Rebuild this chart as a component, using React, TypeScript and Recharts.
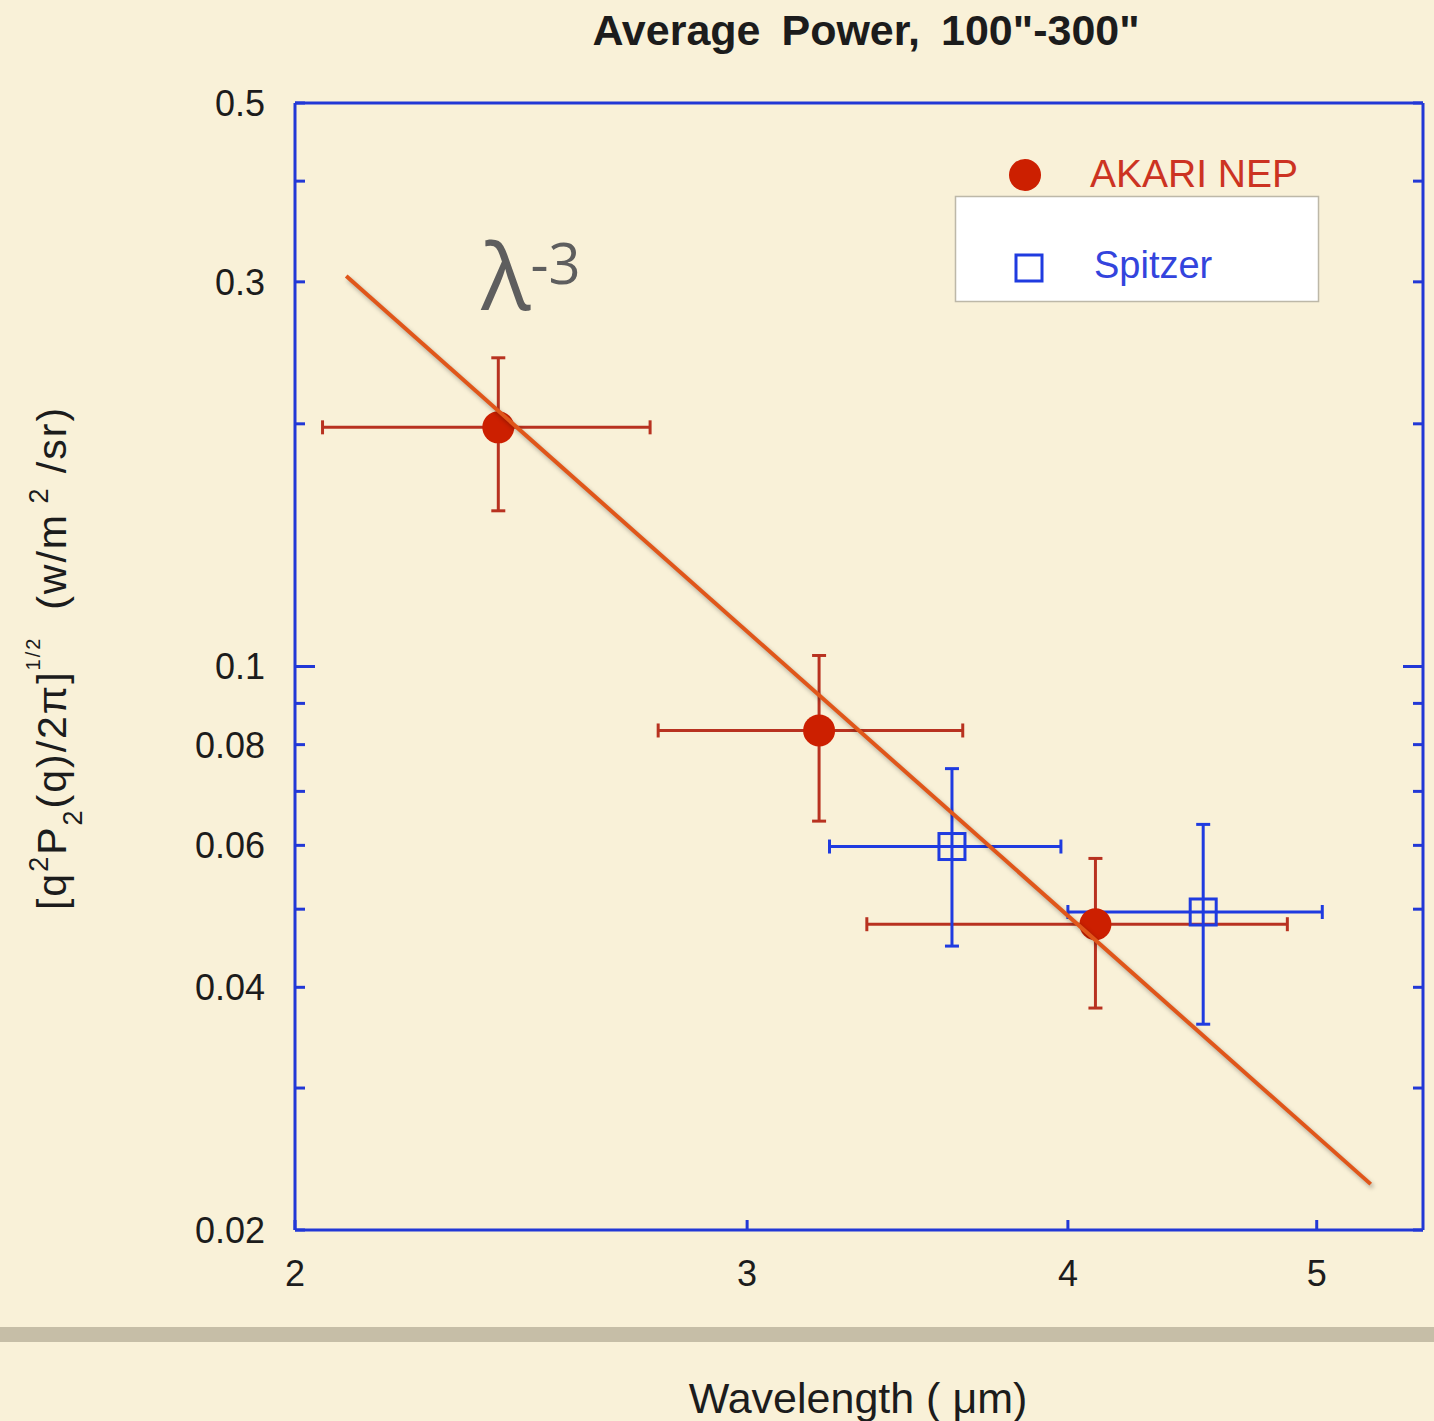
import React from 'react';
import { ScatterChart, Scatter, XAxis, YAxis, ErrorBar, Legend } from 'recharts';

// AKARI NEP points (wavelength in um, power) with error ranges
const akariWavelength = [2.40, 3.20, 4.10];
const akariPower = [0.198, 0.0833, 0.0479];
const akariWavelengthLow = [2.05, 2.77, 3.34];
const akariWavelengthHigh = [2.75, 3.64, 4.87];
const akariPowerLow = [0.156, 0.0643, 0.0377];
const akariPowerHigh = [0.2415, 0.1032, 0.0578];

// Spitzer points
const spitzerWavelength = [3.605, 4.516];
const spitzerPower = [0.0598, 0.0496];
const spitzerWavelengthLow = [3.23, 4.0];
const spitzerWavelengthHigh = [3.975, 5.025];
const spitzerPowerLow = [0.045, 0.036];
const spitzerPowerHigh = [0.0747, 0.0637];

// lambda^-3 fit line end points
const fitWavelength = [2.094, 5.248];
const fitPower = [0.305, 0.0228];

const xTicks = [2, 3, 4, 5];
const yTicks = [0.02, 0.03, 0.04, 0.05, 0.06, 0.07, 0.08, 0.09, 0.1, 0.2, 0.3, 0.4, 0.5];
const yTickLabels = ['0.02', '', '0.04', '', '0.06', '', '0.08', '', '0.1', '', '0.3', '', '0.5'];

const FONT = "'Liberation Sans', Arial, Helvetica, sans-serif";
const BG = '#f9f1d8';
const AXIS = '#2238d6';
const RED = '#cc1f00';
const RED_BAR = '#b83220';
const BLUE = '#1f3be0';
const FIT = '#e0561a';
const TEXT = '#1c1c1c';

const buildRows = (x: number[], y: number[], xl: number[], xh: number[], yl: number[], yh: number[]) =>
    x.map((v, i) => ({
        x: v,
        y: y[i],
        xErr: [v - xl[i], xh[i] - v],
        yErr: [y[i] - yl[i], yh[i] - y[i]],
    }));

const akariRows = buildRows(akariWavelength, akariPower, akariWavelengthLow, akariWavelengthHigh, akariPowerLow, akariPowerHigh);
const spitzerRows = buildRows(spitzerWavelength, spitzerPower, spitzerWavelengthLow, spitzerWavelengthHigh, spitzerPowerLow, spitzerPowerHigh);
const fitRows = fitWavelength.map((x, i) => ({ x, y: fitPower[i] }));

const Y_GAP = 30;
const X_GAP = 43;

function LeftTick(props: any) {
    const { x, y, payload } = props;
    const v = payload.value;
    const edge = x + Y_GAP;
    const len = v === 0.1 ? 20 : 10;
    const label = yTickLabels[yTicks.indexOf(v)];
    return (
        <g>
            <line x1={edge} x2={edge + len} y1={y} y2={y} stroke={AXIS} strokeWidth={3} />
            {label && (
                <text x={x} y={y} dy="0.36em" textAnchor="end" fill={TEXT} fontSize={36} fontFamily={FONT}>
                    {label}
                </text>
            )}
        </g>
    );
}

function RightTick(props: any) {
    const { x, y, payload } = props;
    const len = payload.value === 0.1 ? 20 : 10;
    return <line x1={x - len} x2={x} y1={y} y2={y} stroke={AXIS} strokeWidth={3} />;
}

function BottomTick(props: any) {
    const { x, y, payload } = props;
    const edge = y - X_GAP;
    return (
        <g>
            <line x1={x} x2={x} y1={edge} y2={edge - 10} stroke={AXIS} strokeWidth={3} />
            <text x={x} y={y} dy="0.36em" textAnchor="middle" fill={TEXT} fontSize={36} fontFamily={FONT}>
                {payload.value}
            </text>
        </g>
    );
}

function TopTick(props: any) {
    const { x, y } = props;
    return <line x1={x} x2={x} y1={y} y2={y + 10} stroke={AXIS} strokeWidth={3} />;
}

const RedDot = (props: any) => <circle cx={props.cx} cy={props.cy} r={16} fill={RED} />;
const BlueSquare = (props: any) => (
    <rect x={props.cx - 13} y={props.cy - 13} width={26} height={26} fill="none" stroke={BLUE} strokeWidth={3} />
);
const NoShape = () => <g />;

function LegendBox() {
    return (
        <svg width={420} height={180}>
            <circle cx={85} cy={35} r={16} fill={RED} />
            <text x={150} y={47} fontSize={39} fill="#cc3322" fontFamily={FONT}>AKARI NEP</text>
            <rect x={15.5} y={56.5} width={363} height={105} fill="#ffffff" stroke="#bdb8a8" strokeWidth={1.5} />
            <rect x={76} y={115} width={26} height={26} fill="none" stroke={BLUE} strokeWidth={3} />
            <text x={154} y={138} fontSize={38} fill="#3344dd" fontFamily={FONT}>Spitzer</text>
        </svg>
    );
}

export default function App() {
    return (
        <div style={{ position: 'absolute', left: 0, top: 0, width: 1434, height: 1421, background: BG, overflow: 'hidden', fontFamily: FONT }}>
            <ScatterChart width={1434} height={1421} margin={{ top: 93, right: 1, bottom: 131, left: 195 }}>
                <XAxis
                    xAxisId="bottom"
                    dataKey="x"
                    type="number"
                    scale="log"
                    domain={[2, 5.5]}
                    allowDataOverflow
                    ticks={xTicks}
                    interval={0}
                    height={60}
                    tickSize={0}
                    tickMargin={X_GAP}
                    tickLine={false}
                    tick={BottomTick}
                    axisLine={{ stroke: AXIS, strokeWidth: 3 }}
                />
                <XAxis
                    xAxisId="top"
                    orientation="top"
                    type="number"
                    scale="log"
                    domain={[2, 5.5]}
                    allowDataOverflow
                    ticks={xTicks}
                    interval={0}
                    height={10}
                    tickSize={0}
                    tickMargin={0}
                    tickLine={false}
                    tick={TopTick}
                    axisLine={{ stroke: AXIS, strokeWidth: 3 }}
                />
                <YAxis
                    yAxisId="left"
                    dataKey="y"
                    type="number"
                    scale="log"
                    domain={[0.02, 0.5]}
                    allowDataOverflow
                    ticks={yTicks}
                    interval={0}
                    width={100}
                    tickSize={0}
                    tickMargin={Y_GAP}
                    tickLine={false}
                    tick={LeftTick}
                    axisLine={{ stroke: AXIS, strokeWidth: 3 }}
                />
                <YAxis
                    yAxisId="right"
                    orientation="right"
                    type="number"
                    scale="log"
                    domain={[0.02, 0.5]}
                    allowDataOverflow
                    ticks={yTicks}
                    interval={0}
                    width={10}
                    tickSize={0}
                    tickMargin={0}
                    tickLine={false}
                    tick={RightTick}
                    axisLine={{ stroke: AXIS, strokeWidth: 3 }}
                />
                <Legend
                    layout="vertical"
                    align="center"
                    verticalAlign="middle"
                    content={() => <LegendBox />}
                    wrapperStyle={{ left: 940, top: 140, width: 420, height: 180 }}
                />
                <Scatter name="AKARI NEP" data={akariRows} xAxisId="bottom" yAxisId="left" fill={RED} shape={RedDot} isAnimationActive={false}>
                    <ErrorBar dataKey="xErr" direction="x" width={7} stroke={RED_BAR} strokeWidth={3} isAnimationActive={false} />
                    <ErrorBar dataKey="yErr" direction="y" width={7} stroke={RED_BAR} strokeWidth={3} isAnimationActive={false} />
                </Scatter>
                <Scatter name="Spitzer" data={spitzerRows} xAxisId="bottom" yAxisId="left" fill={BLUE} shape={BlueSquare} isAnimationActive={false}>
                    <ErrorBar dataKey="xErr" direction="x" width={7} stroke={BLUE} strokeWidth={3} isAnimationActive={false} />
                    <ErrorBar dataKey="yErr" direction="y" width={7} stroke={BLUE} strokeWidth={3} isAnimationActive={false} />
                </Scatter>
                <Scatter
                    name="fit"
                    data={fitRows}
                    xAxisId="bottom"
                    yAxisId="left"
                    legendType="none"
                    shape={NoShape}
                    line={{ stroke: FIT, strokeWidth: 4, style: { filter: 'drop-shadow(2px 3px 2px rgba(0,0,0,0.3))' } }}
                    isAnimationActive={false}
                />
            </ScatterChart>

            <div style={{ position: 'absolute', left: 866, top: 30, transform: 'translate(-50%, -50%)', whiteSpace: 'nowrap', fontSize: 43, fontWeight: 'bold', color: TEXT, wordSpacing: 9 }}>
                Average Power, 100"-300"
            </div>

            <div style={{ position: 'absolute', left: 531, top: 275, transform: 'translate(-50%, -50%)', whiteSpace: 'nowrap', color: '#5e5e5e', fontFamily: "'Open Sans', Lato, sans-serif", lineHeight: 1 }}>
                <span style={{ fontSize: 92 }}>λ</span>
                <sup style={{ fontSize: 56, verticalAlign: 26 }}>-3</sup>
            </div>

            <div style={{ position: 'absolute', left: 55, top: 658, transform: 'translate(-50%, -50%) rotate(-90deg)', whiteSpace: 'nowrap', fontSize: 41, letterSpacing: 2, color: TEXT, lineHeight: 1 }}>
                [q<sup style={{ fontSize: 27, verticalAlign: 18 }}>2</sup>P<sub style={{ fontSize: 27, verticalAlign: -16 }}>2</sub>(q)/2π]
                <sup style={{ fontSize: 20, verticalAlign: 26 }}>1/2</sup>
                &nbsp;&nbsp;(w/m<sup style={{ fontSize: 27, verticalAlign: 18 }}>&nbsp;2</sup>&nbsp;/sr)
            </div>

            <div style={{ position: 'absolute', left: 0, top: 1327, width: 1434, height: 15, background: '#c6bea7' }} />

            <div style={{ position: 'absolute', left: 858, top: 1398, transform: 'translate(-50%, -50%)', whiteSpace: 'nowrap', fontSize: 43, color: TEXT }}>
                Wavelength ( μm)
            </div>
        </div>
    );
}
